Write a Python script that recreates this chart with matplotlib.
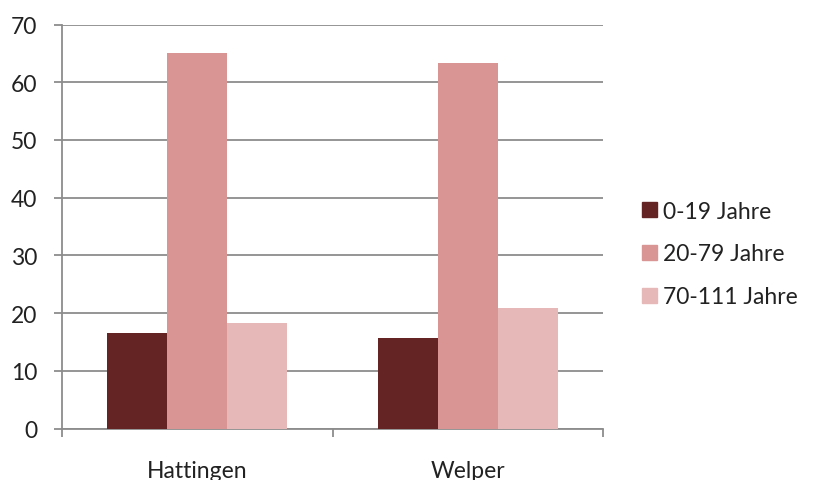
import numpy as np
import matplotlib
matplotlib.use("Agg")
import matplotlib.pyplot as plt
from matplotlib.patches import Patch

# data
orte = ["Hattingen", "Welper"]
gruppen = ["0-19 Jahre", "20-79 Jahre", "70-111 Jahre"]
jung = [16.5, 15.6]
mittel = [65.0, 63.3]
alt = [18.2, 20.9]
farben = ["#642424", "#D99594", "#E6B8B7"]

plt.rcParams['font.family'] = ['Lato', 'DejaVu Sans']
grau = "#8c8c8c"
fs = 16.5

fig = plt.figure(figsize=(8.14, 4.81), dpi=100)
ax = fig.add_axes([62/814, 51.5/481, 541/814, 404/481])

x = np.arange(len(orte))
w = 0.222
for i, (werte, farbe) in enumerate(zip([jung, mittel, alt], farben)):
    ax.bar(x + (i - 1) * w, werte, width=w, color=farbe, zorder=3)

ax.set_xlim(-0.5, 1.5)
ax.set_ylim(0, 70)
ax.set_yticks(range(0, 71, 10))
ax.yaxis.grid(True, color=grau, linewidth=1.3, zorder=0)
ax.tick_params(axis="y", length=6, width=1.3, color=grau, pad=12, labelsize=fs,
               labelcolor="#222222")

# category borders as ticks, names as minor ticks
ax.set_xticks([-0.5, 0.5, 1.5])
ax.set_xticklabels([])
ax.set_xticks(x, minor=True)
ax.set_xticklabels(orte, minor=True)
ax.tick_params(axis="x", which="major", length=6, width=1.3, color=grau)
ax.tick_params(axis="x", which="minor", length=0, pad=23, labelsize=fs,
               labelcolor="#222222")

for s in ["top", "right"]:
    ax.spines[s].set_visible(False)
for s in ["left", "bottom"]:
    ax.spines[s].set_color(grau)
    ax.spines[s].set_linewidth(1.3)

handles = [Patch(color=c, label=g) for c, g in zip(farben, gruppen)]
fig.legend(handles=handles, loc="center left", bbox_to_anchor=(621/814, 1 - 255/481),
           frameon=False, fontsize=fs, handlelength=0.65, handleheight=0.65,
           handletextpad=0.3, labelspacing=0.95, labelcolor="#222222")

fig.savefig("out.png", dpi=100)
